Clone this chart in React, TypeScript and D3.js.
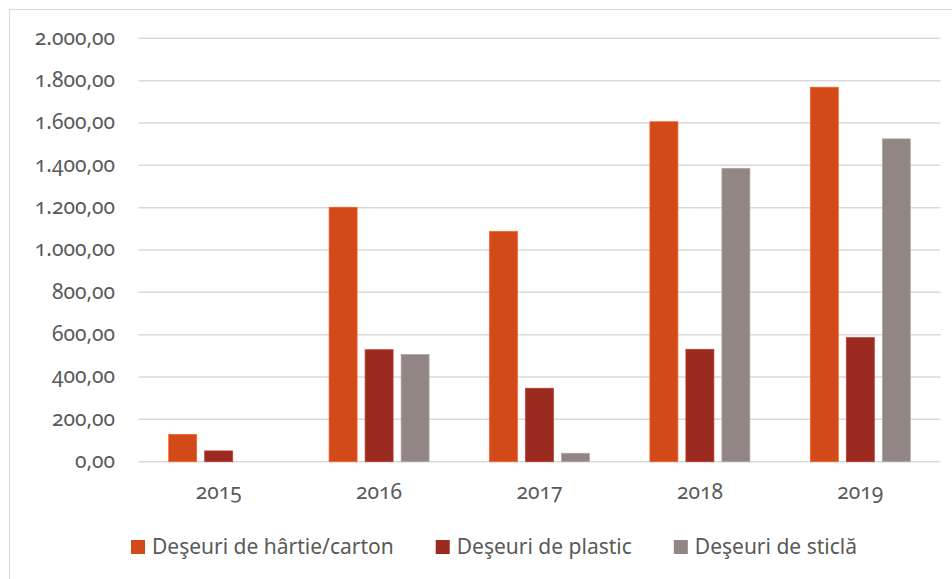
import { useEffect, useRef } from 'react';
import * as d3 from 'd3';

const years = ['2015', '2016', '2017', '2018', '2019'];
const seriesNames = ['Deşeuri de hârtie/carton', 'Deşeuri de plastic', 'Deşeuri de sticlă'];
const paperValues = [129, 1202, 1088, 1606, 1769];
const plasticValues = [51, 529, 347, 531, 586];
const glassValues = [0, 507, 40, 1386, 1525];
const yTicks = [0, 200, 400, 600, 800, 1000, 1200, 1400, 1600, 1800, 2000];
const colors = ['#D24A19', '#9B2B20', '#918684'];

const fmt = (v: number) => {
  const s = Math.round(v).toString().replace(/\B(?=(\d{3})+(?!\d))/g, '.');
  return `${s},00`;
};

export default function App() {
  const ref = useRef<SVGSVGElement | null>(null);

  useEffect(() => {
    if (!ref.current) return;
    const svg = d3.select(ref.current);
    svg.selectAll('*').remove();

    const width = 952;
    const height = 579;
    const plot = { left: 138.5, right: 940.5, top: 38.3, bottom: 461.7 };
    const font = '"Noto Sans", "Open Sans", sans-serif';
    const textColor = '#595959';

    // chart border (right edge runs off the picture)
    svg.append('rect')
      .attr('x', 9.5).attr('y', 9.5)
      .attr('width', 990).attr('height', 600)
      .attr('fill', 'white')
      .attr('stroke', '#d9d9d9')
      .attr('stroke-width', 1);

    const y = d3.scaleLinear().domain([0, 2000]).range([plot.bottom, plot.top]);
    const x0 = d3.scaleBand().domain(years).range([plot.left, plot.right]).paddingInner(0).paddingOuter(0);
    const barStep = x0.bandwidth() * (36 / 160.4);
    const barW = 28;

    // gridlines
    svg.append('g')
      .selectAll('line')
      .data(yTicks)
      .join('line')
      .attr('x1', plot.left)
      .attr('x2', plot.right)
      .attr('y1', (d) => y(d))
      .attr('y2', (d) => y(d))
      .attr('stroke', '#d9d9d9')
      .attr('stroke-width', 1.5);

    // y labels
    svg.append('g')
      .selectAll('text')
      .data(yTicks)
      .join('text')
      .attr('x', 115)
      .attr('y', (d) => y(d))
      .attr('dy', '0.3em')
      .attr('text-anchor', 'end')
      .attr('font-family', font)
      .attr('font-size', 21)
      .attr('fill', textColor)
      .style('font-feature-settings', '"onum" 1')
      .text((d) => fmt(d));

    const allSeries = [paperValues, plasticValues, glassValues];

    allSeries.forEach((vals, si) => {
      svg.append('g')
        .selectAll('rect')
        .data(vals)
        .join('rect')
        .attr('x', (_, i) => x0(years[i])! + x0.bandwidth() / 2 + (si - 1) * barStep - barW / 2)
        .attr('y', (d) => y(d))
        .attr('width', barW)
        .attr('height', (d) => y(0) - y(d))
        .attr('fill', colors[si])
        .attr('stroke', d3.color(colors[si])!.brighter(0.6).formatHex())
        .attr('stroke-width', 0.7)
        .attr('stroke-opacity', (d) => (d > 0 ? 1 : 0));
    });

    // x labels
    svg.append('g')
      .selectAll('text')
      .data(years)
      .join('text')
      .attr('x', (d) => x0(d)! + x0.bandwidth() / 2)
      .attr('y', 493)
      .attr('dy', '0.3em')
      .attr('text-anchor', 'middle')
      .attr('font-family', font)
      .attr('font-size', 21)
      .attr('fill', textColor)
      .style('font-feature-settings', '"onum" 1')
      .text((d) => d);

    // legend
    const legend = svg.append('g');
    const items = seriesNames.map((name, i) => {
      const g = legend.append('g');
      g.append('rect')
        .attr('x', 0).attr('y', -7)
        .attr('width', 14).attr('height', 14)
        .attr('fill', colors[i]);
      const t = g.append('text')
        .attr('x', 21)
        .attr('y', 0)
        .attr('dy', '0.35em')
        .attr('font-family', font)
        .attr('font-size', 21)
        .attr('fill', textColor)
        .text(name);
      const w = 21 + (t.node() as SVGTextElement).getComputedTextLength();
      return { g, w };
    });
    const gap = 42;
    const total = d3.sum(items, (d) => d.w) + gap * (items.length - 1);
    let cx = 494 - total / 2;
    items.forEach(({ g, w }) => {
      g.attr('transform', `translate(${cx},547)`);
      cx += w + gap;
    });

    svg.attr('width', width).attr('height', height);
  }, []);

  return (
    <div style={{ position: 'absolute', left: 0, top: 0 }}>
      <svg ref={ref} width={952} height={579} style={{ display: 'block' }}></svg>
    </div>
  );
}
